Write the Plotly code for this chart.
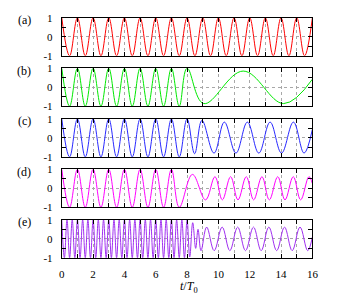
import plotly.graph_objects as go

# Extrema (peaks / troughs), per panel.  t in units of T0.
t_a = [0, 0.5, 1, 1.5, 2, 2.5, 3, 3.5, 4, 4.5, 5, 5.5, 6, 6.5, 7, 7.5, 8,
       8.5, 9, 9.5, 10, 10.5, 11, 11.5, 12, 12.5, 13, 13.5, 14, 14.5, 15, 15.5, 16]
y_a = [1, -1, 1, -1, 1, -1, 1, -1, 1, -1, 1, -1, 1, -1, 1, -1, 1,
       -1, 1, -1, 1, -1, 1, -1, 1, -1, 1, -1, 1, -1, 1, -1, 1]

t_b = [0, 0.5, 1, 1.5, 2, 2.5, 3, 3.5, 4, 4.5, 5, 5.5, 6, 6.5, 7, 7.5, 8,
       9.06, 11.58, 14.17, 16]
y_b = [1, -1, 1, -1, 1, -1, 1, -1, 1, -1, 1, -1, 1, -1, 1, -1, 1,
       -0.86, 0.85, -0.86, 0.42]

t_c = [0, 0.5, 1, 1.5, 2, 2.5, 3, 3.5, 4, 4.5, 5, 5.5, 6, 6.5, 7, 7.5, 8,
       8.48, 8.95, 9.72, 10.38, 11.12, 11.85, 12.58, 13.3, 14.03, 14.79, 15.47, 16]
y_c = [1, -1, 1, -1, 1, -1, 1, -1, 1, -1, 1, -1, 1, -1, 1, -1, 1,
       -0.83, 0.92, -0.80, 0.83, -0.80, 0.83, -0.80, 0.83, -0.80, 0.83, -0.80, 0.45]

t_d = [0, 0.5, 1, 1.5, 2, 2.5, 3, 3.5, 4, 4.5, 5, 5.5, 6, 6.5, 7, 7.5,
       8.34, 9.18, 9.78, 10.25, 10.78, 11.25, 11.78, 12.25, 12.78, 13.25,
       13.79, 14.25, 14.78, 15.25, 15.78, 16]
y_d = [1, -1, 1, -1, 1, -1, 1, -1, 1, -1, 1, -1, 1, -1, 1, -1,
       0.73, -0.61, 0.61, -0.61, 0.61, -0.61, 0.61, -0.61, 0.61, -0.61,
       0.61, -0.61, 0.61, -0.61, 0.61, 0.25]

t_e = [0, 0.167, 0.333, 0.5, 0.667, 0.833, 1, 1.167, 1.333, 1.5, 1.667, 1.833,
       2, 2.167, 2.333, 2.5, 2.667, 2.833, 3, 3.167, 3.333, 3.5, 3.667, 3.833,
       4, 4.167, 4.333, 4.5, 4.667, 4.833, 5, 5.167, 5.333, 5.5, 5.667, 5.833,
       6, 6.167, 6.333, 6.5, 6.667, 6.833, 7, 7.167, 7.333, 7.5, 7.667, 7.833, 8,
       8.17, 8.36, 8.55, 8.7, 8.89, 9.25, 9.73, 10.24, 10.73, 11.23, 11.73,
       12.24, 12.73, 13.22, 13.72, 14.22, 14.71, 15.21, 15.7, 16]
y_e = [1, -1, 1, -1, 1, -1, 1, -1, 1, -1, 1, -1,
       1, -1, 1, -1, 1, -1, 1, -1, 1, -1, 1, -1,
       1, -1, 1, -1, 1, -1, 1, -1, 1, -1, 1, -1,
       1, -1, 1, -1, 1, -1, 1, -1, 1, -1, 1, -1, 1,
       -0.95, 0.85, -0.5, 0.5, -0.62, 0.62, -0.62, 0.62, -0.62, 0.62, -0.62,
       0.62, -0.62, 0.62, -0.62, 0.62, -0.62, 0.62, -0.62, 0.1]

panel_labels = ["(a)", "(b)", "(c)", "(d)", "(e)"]
x_tick_values = [0, 2, 4, 6, 8, 10, 12, 14, 16]
y_tick_values = [-1, 0, 1]
y_tick_text = ["-1", "0", "1"]

series = [(t_a, y_a, "#ff0000"), (t_b, y_b, "#00e800"), (t_c, y_c, "#2828ff"),
          (t_d, y_d, "#ff00ff"), (t_e, y_e, "#a030f0")]

# The page body keeps its default 8px margin, so the figure is 8px smaller
# and all positions are measured from (8, 8) of the window.
OFF = 8
W, H = 339 - OFF, 306 - OFF
x_left, x_right = 60.2 - OFF, 317.8 - OFF
tops = [v - OFF for v in (12, 64.5, 117.3, 169.8, 222.5)]
ph = 39.6

tick_font = dict(family="Liberation Serif", size=11, color="black")
label_font = dict(family="Liberation Serif", size=12, color="black")

fig = go.Figure()
layout = {}
for i, (t, y, col) in enumerate(series):
    n = i + 1
    fig.add_trace(go.Scatter(x=t, y=y, mode="lines",
                             line=dict(color=col, width=1, shape="spline", smoothing=1.1),
                             xaxis=f"x{n}", yaxis=f"y{n}", showlegend=False, hoverinfo="skip"))
    top = tops[i]
    bot = top + ph
    layout[f"xaxis{n}" if n > 1 else "xaxis"] = dict(
        domain=[x_left / W, x_right / W], anchor=f"y{n}", range=[0, 16],
        showline=True, mirror="ticks", linecolor="black", linewidth=1,
        ticks="inside", ticklen=4, tickcolor="black", tickwidth=1,
        tickvals=x_tick_values, showticklabels=(n == 5), tickfont=tick_font,
        ticklabelstandoff=6,
        showgrid=True, gridcolor="#a8a8a8", griddash="dot", gridwidth=1,
        minor=dict(dtick=1, tick0=0, ticks="inside", ticklen=4, tickcolor="black",
                   showgrid=True, gridcolor="#a8a8a8", griddash="dot", gridwidth=1),
        zeroline=False, fixedrange=True)
    layout[f"yaxis{n}" if n > 1 else "yaxis"] = dict(
        domain=[1 - bot / H, 1 - top / H], anchor=f"x{n}", range=[-1, 1],
        showline=True, mirror="ticks", linecolor="black", linewidth=1,
        ticks="inside", ticklen=4, tickcolor="black", tickwidth=1,
        tickvals=y_tick_values, ticktext=y_tick_text, tickfont=tick_font,
        ticklabelstandoff=6,
        showgrid=True, gridcolor="#a8a8a8", griddash="dot", gridwidth=1,
        minor=dict(tickvals=[-0.5, 0.5], ticks="inside", ticklen=4, tickcolor="black",
                   showgrid=False),
        zeroline=False, fixedrange=True)

annotations = []
for i, lab in enumerate(panel_labels):
    annotations.append(dict(text=lab, x=(21.5 - OFF) / W, y=1 - (tops[i] + 2.5) / H,
                            xref="paper", yref="paper", xanchor="center", yanchor="middle",
                            showarrow=False, font=label_font))
annotations.append(dict(text="<i>t</i>/<i>T</i><sub>0</sub>", x=(190.5 - OFF) / W,
                        y=1 - (292 - OFF) / H,
                        xref="paper", yref="paper", xanchor="center", yanchor="middle",
                        showarrow=False, font=label_font))

fig.update_layout(width=W, height=H, margin=dict(l=0, r=0, t=0, b=0),
                  paper_bgcolor="white", plot_bgcolor="white",
                  annotations=annotations, **layout)

fig.write_html("out.html")
